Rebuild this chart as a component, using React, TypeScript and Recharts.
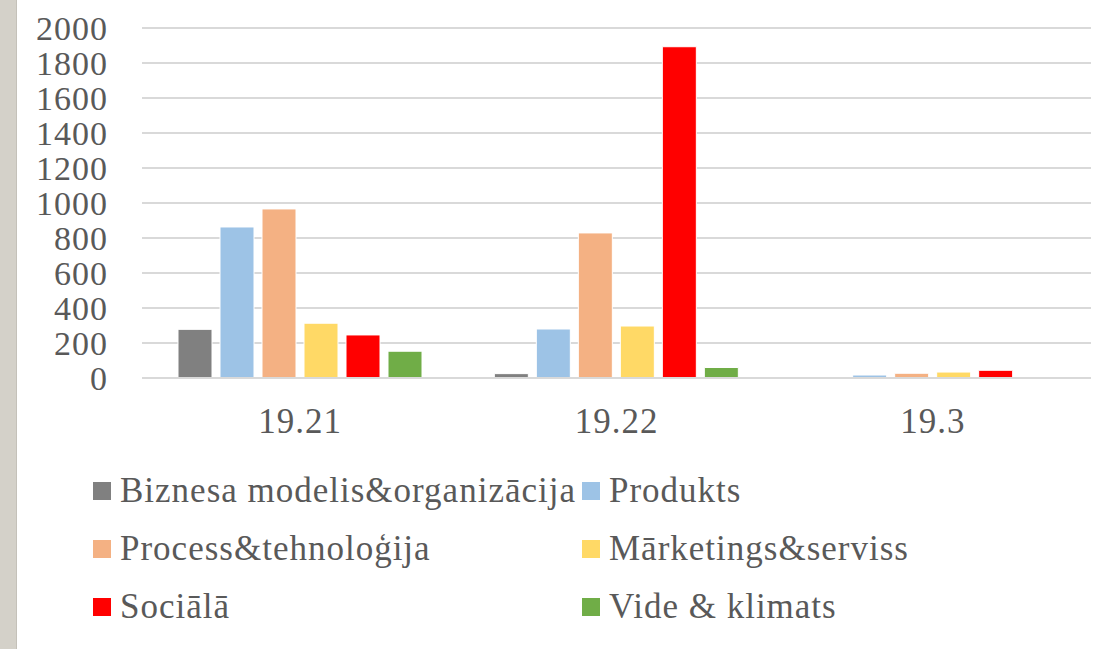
import React from 'react';
import { BarChart, Bar, XAxis, YAxis, CartesianGrid, Legend } from 'recharts';

const categories = ['19.21', '19.22', '19.3'];
const biznesa = [278, 25, 0];
const produkts = [863, 280, 17];
const process = [966, 829, 27];
const marketings = [313, 297, 34];
const sociala = [246, 1893, 44];
const vide = [153, 60, 0];
const yTicks = [0, 200, 400, 600, 800, 1000, 1200, 1400, 1600, 1800, 2000];

const seriesNames = [
  'Biznesa modelis&organizācija',
  'Produkts',
  'Process&tehnoloģija',
  'Mārketings&serviss',
  'Sociālā',
  'Vide & klimats',
];
const seriesValues = [biznesa, produkts, process, marketings, sociala, vide];
const colors = ['#808080', '#9DC3E6', '#F4B183', '#FFD966', '#FF0000', '#70AD47'];

const data = categories.map((c, i) => {
  const row: Record<string, string | number> = { name: c };
  seriesNames.forEach((s, k) => {
    row[s] = seriesValues[k][i];
  });
  return row;
});

const FONT = '"Liberation Serif", "Times New Roman", serif';
const TEXT = '#595959';

const LegendContent = (props: any) => {
  const payload = props.payload || [];
  return (
    <div style={{ position: 'relative', width: 1118, height: 649 }}>
      {payload.map((p: any) => {
        const i = seriesNames.indexOf(p.value);
        const col = i % 2;
        const row = Math.floor(i / 2);
        const left = col === 0 ? 93 : 582;
        const cy = 491 + row * 58;
        return (
          <div
            key={p.value}
            style={{
              position: 'absolute',
              left,
              top: cy - 20,
              height: 40,
              display: 'flex',
              alignItems: 'center',
              whiteSpace: 'nowrap',
            }}
          >
            <span style={{ display: 'inline-block', width: 18, height: 18, background: p.color, marginRight: 9 }} />
            <span style={{ fontFamily: FONT, fontSize: 35, letterSpacing: 1, color: TEXT, lineHeight: '40px' }}>{p.value}</span>
          </div>
        );
      })}
    </div>
  );
};

export default function App() {
  return (
    <div style={{ position: 'absolute', left: 0, top: 0, width: 1118, height: 649, background: '#fff' }}>
      <div
        style={{
          position: 'absolute',
          left: 0,
          top: 0,
          width: 16,
          height: 649,
          background: '#d4d1c9',
          borderRight: '1px solid #c4c1b9',
        }}
      />
      <BarChart
        width={1118}
        height={649}
        data={data}
        margin={{ top: 28, right: 27, bottom: 211, left: 0 }}
        barCategoryGap={36}
        barGap={8}
        style={{ position: 'absolute', left: 0, top: 0 }}
      >
        <CartesianGrid vertical={false} stroke="#d9d9d9" strokeWidth={2} />
        <XAxis
          dataKey="name"
          height={60}
          tickSize={0}
          tickMargin={30}
          axisLine={{ stroke: '#d9d9d9', strokeWidth: 2 }}
          tickLine={false}
          tick={{ fontFamily: FONT, fontSize: 35, fill: TEXT, letterSpacing: 1 }}
        />
        <YAxis
          width={142}
          domain={[0, 2000]}
          ticks={yTicks}
          interval={0}
          tickSize={0}
          tickMargin={34}
          axisLine={false}
          tickLine={false}
          tick={{ fontFamily: FONT, fontSize: 34, fill: TEXT, letterSpacing: 1 }}
        />
        <Legend
          layout="horizontal"
          verticalAlign="middle"
          align="center"
          content={<LegendContent />}
          wrapperStyle={{ position: 'absolute', left: 0, top: 0, width: 1118, height: 649, pointerEvents: 'none' }}
        />
        {seriesNames.map((s, k) => (
          <Bar key={s} dataKey={s} fill={colors[k]} stroke="#ffffff" strokeWidth={1} isAnimationActive={false} />
        ))}
      </BarChart>
    </div>
  );
}
